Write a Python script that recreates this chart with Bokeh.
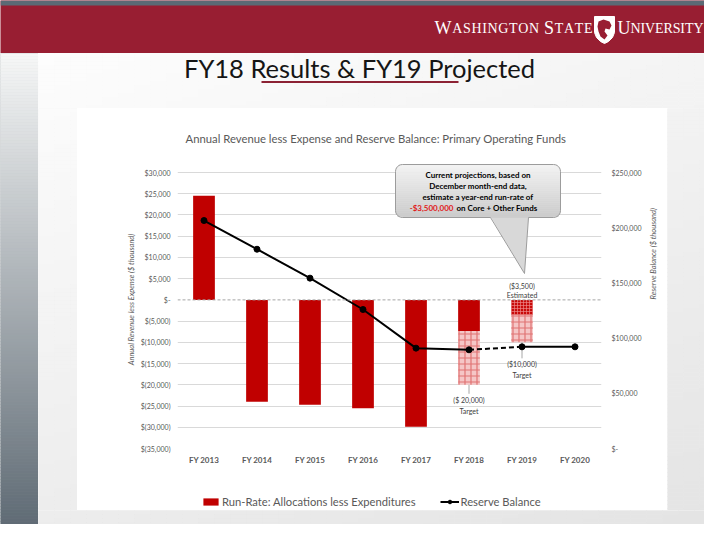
import math
from bokeh.plotting import figure
from bokeh.layouts import column, row
from bokeh.models import (Range1d, FactorRange, LinearAxis, FixedTicker, Span, Legend,
                          LegendItem, ColumnDataSource)
from bokeh.core.properties import value
from bokeh.embed import file_html
from bokeh.resources import INLINE

# ---------------- chart data ----------------
categories = ["FY 2013", "FY 2014", "FY 2015", "FY 2016", "FY 2017", "FY 2018", "FY 2019", "FY 2020"]
actual_categories = ["FY 2013", "FY 2014", "FY 2015", "FY 2016", "FY 2017", "FY 2018"]
run_rate_actual = [24500, -24000, -24700, -25500, -29900, -7300]
estimate_categories = ["FY 2019"]
run_rate_estimated = [-3500]
target_categories = ["FY 2018", "FY 2019"]
run_rate_target = [-20000, -10000]
target_labels = ["($ 20,000)", "($10,000)"]
estimate_labels = ["($3,500)"]
reserve_balance = [206500, 180500, 154300, 125900, 90900, 89400, 92100, 92100]

left_ticks = list(range(-35000, 30001, 5000))
right_ticks = list(range(0, 250001, 50000))

callout_lines = ["Current projections, based on", "December month-end data,",
                 "estimate a year-end run-rate of"]
callout_red = "-$3,500,000"
callout_tail = "on Core + Other Funds"
legend_labels = ["Run-Rate: Allocations less Expenditures", "Reserve Balance"]

FONT = "Lato"
TXT = "#595959"
RED = "#c00000"
MAROON = "#981e32"


def acct(v):
    if v == 0:
        return "$-"
    s = f"{abs(v):,}"
    return f"$({s})" if v < 0 else f"${s}"


def hexc(rgb):
    return "#%02x%02x%02x" % tuple(int(round(c)) for c in rgb)


def lerp(a, b, t):
    return tuple(a[i] + (b[i] - a[i]) * t for i in range(3))


# ---------------- geometry (picture pixels) ----------------
W_ALL, H_ALL = 704, 524
HEAD_B = 53
STRIP_R = 38
CH_X0, CH_X1, CH_Y0, CH_Y1 = 77, 667, 108, 510      # white chart box
LEG_Y0 = 488                                         # legend strip top
FR_L, FR_R, FR_T, FR_B = 177, 601, 150, 448          # plot frame
TICK_TOP_PY = 172                                    # picture y of the top tick
LEG_X = 201                                          # legend left edge

k_left = (FR_B - TICK_TOP_PY) / (left_ticks[-1] - left_ticks[0])
k_right = (FR_B - TICK_TOP_PY) / (right_ticks[-1] - right_ticks[0])
y_end_left = left_ticks[-1] + (TICK_TOP_PY - FR_T) / k_left
y_end_right = right_ticks[-1] + (TICK_TOP_PY - FR_T) / k_right
CAT_W = (FR_R - FR_L) / len(categories)


def px2x(px):
    return (px - FR_L) / CAT_W


def py2y(py):
    return left_ticks[0] + (FR_B - py) / k_left


def deco(x0, x1, y0, y1, fill):
    f = figure(width=x1 - x0, height=y1 - y0, x_range=Range1d(x0, x1), y_range=Range1d(y1, y0),
               x_axis_type=None, y_axis_type=None, output_backend="svg",
               toolbar_location=None, min_border=0)
    f.outline_line_color = None
    f.background_fill_color = fill
    f.border_fill_color = fill
    return f


def bg_rgb(x, y):
    ty = min(max((y - 53) / 487, 0), 1)
    tx = min(max((x - 38) / 682, 0), 1)
    v = 253 - 17 * ty - 9 * tx
    return (v, v, v)


def paint_bg(f, x0, x1, y0, y1, cw=16, chh=4):
    L, R, T, B, C = [], [], [], [], []
    y = y0
    while y < y1:
        yb = min(y + chh, y1)
        x = x0
        while x < x1:
            xr = min(x + cw, x1)
            L.append(x); R.append(xr); T.append(y); B.append(yb)
            C.append(hexc(bg_rgb((x + xr) / 2, (y + yb) / 2)))
            x = xr
        y = yb
    f.quad(left=L, right=R, top=T, bottom=B, fill_color=C, line_color=C, line_width=0.6)


# ---------------- header band ----------------
header = deco(0, W_ALL, 0, HEAD_B, MAROON)
header.quad(left=0, right=W_ALL, top=0, bottom=5, fill_color="#5b6a75", line_color=None)

TW = {"W": 944, "A": 722, "S": 556, "H": 722, "I": 333, "N": 722, "G": 722, "T": 611,
      "O": 722, "E": 611, "U": 722, "V": 722, "R": 667, "Y": 722, " ": 250}


def logo_word(f, word, x_start, x_end, baseline, big=18, small=14):
    sizes, prev_space = [], True
    for ch in word:
        sizes.append(big if (prev_space and ch != " ") else small)
        prev_space = ch == " "
    widths = [TW[ch] / 1000 * s for ch, s in zip(word, sizes)]
    extra = (x_end - x_start - sum(widths)) / (len(word) - 1)
    xs, x = [], x_start
    for w in widths:
        xs.append(x)
        x += w + extra
    keep = [i for i, ch in enumerate(word) if ch != " "]
    src = ColumnDataSource(dict(x=[xs[i] for i in keep],
                                y=[baseline - 0.33 * sizes[i] for i in keep],
                                t=[word[i] for i in keep],
                                s=[f"{sizes[i]}px" for i in keep]))
    f.text(x="x", y="y", text="t", text_font_size="s", source=src,
           text_font=value("Liberation Serif"), text_color="white",
           text_baseline="middle", text_align="left")


logo_word(header, "WASHINGTON STATE", 434, 592, 33)
logo_word(header, "UNIVERSITY", 617, 703, 33)
shield_x = [594, 614, 614, 612, 608, 604, 600, 596, 594]
shield_y = [16, 16, 32, 37, 41, 43, 41, 37, 32]
header.patch(shield_x, shield_y, fill_color="white", line_color="white")
head_x = [598, 603, 609, 611, 609, 605, 604, 607, 604, 600, 598, 597]
head_y = [21, 19, 21, 25, 29, 28, 31, 35, 39, 36, 31, 26]
header.patch(head_x, head_y, fill_color=MAROON, line_color=None)

# ---------------- left gradient strip ----------------
strip = deco(0, STRIP_R, HEAD_B, H_ALL, "#aab0b4")
sy = list(range(HEAD_B, H_ALL, 3))
scol = [hexc(lerp((246, 247, 247), (90, 102, 112), (v + 1.5 - 53) / 487)) for v in sy]
strip.quad(left=0, right=STRIP_R, top=sy, bottom=[min(v + 3, H_ALL) for v in sy],
           fill_color=scol, line_color=scol, line_width=0.6)

# ---------------- slide title ----------------
title_fig = deco(STRIP_R, W_ALL, HEAD_B, CH_Y0, "#f8f8f8")
paint_bg(title_fig, STRIP_R, W_ALL, HEAD_B, CH_Y0)
title_fig.text(x=[359], y=[67], text=["FY18 Results & FY19 Projected"], text_align="center",
               text_baseline="middle", text_font=value(FONT), text_font_size="25.5px",
               text_color="#151515")
title_fig.line(x=[261, 458], y=[81.5, 81.5], line_color="#8c2234", line_width=2.2)

# ---------------- gaps around chart box ----------------
gap_l = deco(STRIP_R, CH_X0, CH_Y0, CH_Y1, "#f0f0f0")
paint_bg(gap_l, STRIP_R, CH_X0, CH_Y0, CH_Y1)
gap_r = deco(CH_X1, W_ALL, CH_Y0, CH_Y1, "#eeeeee")
paint_bg(gap_r, CH_X1, W_ALL, CH_Y0, CH_Y1)
gap_b = deco(STRIP_R, W_ALL, CH_Y1, H_ALL, "#e8e8e8")
paint_bg(gap_b, STRIP_R, W_ALL, CH_Y1, H_ALL)

# ---------------- main chart ----------------
p = figure(width=CH_X1 - CH_X0, height=LEG_Y0 - CH_Y0,
           x_range=FactorRange(factors=categories),
           y_range=Range1d(left_ticks[0], y_end_left),
           min_border_left=FR_L - CH_X0, min_border_right=CH_X1 - FR_R,
           min_border_top=FR_T - CH_Y0, min_border_bottom=LEG_Y0 - FR_B,
           output_backend="svg", toolbar_location=None)
p.outline_line_color = None
p.background_fill_color = "white"
p.border_fill_color = "white"
p.extra_y_ranges = {"right": Range1d(right_ticks[0], y_end_right)}

p.title.text = "Annual Revenue less Expense and Reserve Balance: Primary Operating Funds"
p.title.text_font = FONT
p.title.text_font_size = "11.3px"
p.title.text_font_style = "normal"
p.title.text_color = TXT
p.title.align = "left"
p.title.offset = 8
p.title.standoff = 11

p.xgrid.visible = False
p.ygrid.ticker = FixedTicker(ticks=[t for t in left_ticks if t != 0])
p.ygrid.grid_line_color = "#d9d9d9"


def style_axis(ax, size="7px"):
    ax.axis_line_color = None
    ax.major_tick_line_color = None
    ax.minor_tick_line_color = None
    ax.major_tick_out = 0
    ax.major_tick_in = 0
    ax.major_label_text_font = FONT
    ax.major_label_text_font_size = size
    ax.major_label_text_color = TXT
    ax.axis_label_text_font = FONT
    ax.axis_label_text_font_size = "7.5px"
    ax.axis_label_text_font_style = "italic"
    ax.axis_label_text_color = TXT


ly = p.yaxis[0]
ly.ticker = FixedTicker(ticks=left_ticks)
ly.major_label_overrides = {t: acct(t) for t in left_ticks}
style_axis(ly)
ly.major_label_standoff = 7
ly.axis_label = "Annual Revenue less Expense ($ thousand)"
ly.axis_label_standoff = 2

ry = LinearAxis(y_range_name="right", ticker=FixedTicker(ticks=right_ticks))
ry.major_label_overrides = {t: acct(t) for t in right_ticks}
style_axis(ry)
ry.major_label_standoff = 10
ry.axis_label = "Reserve Balance ($ thousand)"
ry.axis_label_standoff = 9
ry.axis_label_orientation = math.pi / 2
p.add_layout(ry, "right")

bx = p.xaxis[0]
style_axis(bx, "8px")
bx.major_label_text_font_style = "bold"
bx.major_label_standoff = 6

p.add_layout(Span(location=0, dimension="width", line_color="#a6a6a6",
                  line_dash="3 2", line_width=1))

BAR_W = 0.41
BAR_STYLE = dict(fill_color=RED, line_color=None)
LINE_STYLE = dict(line_color="black", line_width=2)
DOT_STYLE = dict(size=6, marker="circle", fill_color="black", line_color="black")

bars = p.vbar(x=actual_categories, top=run_rate_actual, bottom=0, width=BAR_W, **BAR_STYLE)
target_from = [run_rate_actual[-1], run_rate_estimated[0]]
p.vbar(x=target_categories, top=target_from, bottom=run_rate_target, width=BAR_W,
       fill_color="#f5c6c6", line_color=None, hatch_pattern="cross",
       hatch_color="#d23c3c", hatch_scale=6, hatch_weight=1.2, hatch_alpha=0.6)
p.vbar(x=estimate_categories, top=0, bottom=run_rate_estimated, width=BAR_W,
       fill_color="#c80a0a", line_color=None, hatch_pattern="cross",
       hatch_color="#f09090", hatch_scale=3, hatch_weight=0.8, hatch_alpha=0.8)

# leader lines + labels for targets / estimate
lead_px = [9, 16]
p.segment(x0=target_categories, y0=run_rate_target, x1=target_categories,
          y1=[t - L / k_left for t, L in zip(run_rate_target, lead_px)],
          line_color="#a6a6a6", line_width=1)
p.text(x=target_categories, y=[t - (L + 6) / k_left for t, L in zip(run_rate_target, lead_px)],
       text=target_labels, text_align="center", text_baseline="middle",
       text_font=value(FONT), text_font_size="7px", text_color="#404040")
p.text(x=target_categories, y=[t - (L + 17) / k_left for t, L in zip(run_rate_target, lead_px)],
       text=["Target"] * len(target_categories), text_align="center", text_baseline="middle",
       text_font=value(FONT), text_font_size="7px", text_color="#404040")
p.text(x=estimate_categories, y=[14 / k_left], text=estimate_labels, text_align="center",
       text_baseline="middle", text_font=value(FONT), text_font_size="7px", text_color="#404040")
p.text(x=estimate_categories, y=[5 / k_left], text=["Estimated"], text_align="center",
       text_baseline="middle", text_font=value(FONT), text_font_size="7px", text_color="#404040")

# reserve balance line (solid actuals, dashed FY18 -> FY19 projection)
p.line(categories[:6], reserve_balance[:6], y_range_name="right", **LINE_STYLE)
p.line(categories[5:7], reserve_balance[5:7], y_range_name="right", line_dash="5 3",
       **LINE_STYLE)
p.line(categories[6:], reserve_balance[6:], y_range_name="right", **LINE_STYLE)
p.scatter(categories, reserve_balance, y_range_name="right", **DOT_STYLE)

# ---------------- callout (picture-pixel layout converted to chart coords) ----------------
CL, CR, CT, CB, CRAD = 395, 560, 164, 217, 7
PTR = (490, 528, (524, 273))


def outline_pts(n=6):
    pts = []

    def arc(cx, cy, a0, a1):
        for i in range(n + 1):
            a = a0 + (a1 - a0) * i / n
            pts.append((cx + CRAD * math.cos(a), cy + CRAD * math.sin(a)))
    arc(CL + CRAD, CT + CRAD, math.pi, 1.5 * math.pi)
    arc(CR - CRAD, CT + CRAD, 1.5 * math.pi, 2 * math.pi)
    arc(CR - CRAD, CB - CRAD, 0, 0.5 * math.pi)
    pts += [(PTR[1], CB), PTR[2], (PTR[0], CB)]
    arc(CL + CRAD, CB - CRAD, 0.5 * math.pi, math.pi)
    pts.append(pts[0])
    return pts


p.patch([px2x(v) for v in (PTR[0], PTR[1], PTR[2][0])],
        [py2y(v) for v in (CB - 1, CB - 1, PTR[2][1])],
        fill_color="#d8d8d8", line_color=None)
sx_list, sy_list, sc_list = [], [], []
for yy in range(CT, CB, 2):
    ym = yy + 1
    dy = 0
    if ym < CT + CRAD:
        dy = CT + CRAD - ym
    elif ym > CB - CRAD:
        dy = ym - (CB - CRAD)
    ins = CRAD - math.sqrt(max(CRAD * CRAD - dy * dy, 0))
    xa, xb = px2x(CL + ins), px2x(CR - ins)
    ya, yb = py2y(yy), py2y(min(yy + 2, CB))
    sx_list.append([xa, xb, xb, xa])
    sy_list.append([ya, ya, yb, yb])
    sc_list.append(hexc(lerp((243, 243, 243), (202, 202, 202), (ym - CT) / (CB - CT))))
p.patches(sx_list, sy_list, fill_color=sc_list, line_color=sc_list, line_width=0.5)
op = outline_pts()
p.line([px2x(a) for a, b in op], [py2y(b) for a, b in op], line_color="#9c9c9c", line_width=1)

CX = (CL + CR) / 2
p.text(x=[px2x(CX)] * 3, y=[py2y(v) for v in (174, 185, 196)], text=callout_lines,
       text_align="center", text_baseline="middle", text_font=value(FONT),
       text_font_style="bold", text_font_size="8px", text_color="black")
p.text(x=[px2x(453)], y=[py2y(207)], text=[callout_red], text_align="right",
       text_baseline="middle", text_font=value(FONT), text_font_style="bold",
       text_font_size="8px", text_color="#e01b1b")
p.text(x=[px2x(456)], y=[py2y(207)], text=[callout_tail], text_align="left",
       text_baseline="middle", text_font=value(FONT), text_font_style="bold",
       text_font_size="8px", text_color="black")

# ---------------- legend strip (bottom of the white chart box) ----------------
# same side borders as the chart so its frame lines up with the chart frame
leg = figure(width=CH_X1 - CH_X0, height=CH_Y1 - LEG_Y0, x_range=Range1d(0, 1),
             y_range=Range1d(0, 1), x_axis_type=None, y_axis_type=None,
             output_backend="svg", toolbar_location=None, min_border=0,
             min_border_left=FR_L - CH_X0, min_border_right=CH_X1 - FR_R)
leg.outline_line_color = None
leg.background_fill_color = "white"
leg.border_fill_color = "white"
# off-range sample points: these renderers only supply the legend swatches
lg_bar = leg.vbar(x=[-5], top=[-5], bottom=[-6], width=0.5, **BAR_STYLE)
lg_line = leg.line(x=[-5, -4], y=[-5, -5], **LINE_STYLE)
lg_dot = leg.scatter(x=[-5], y=[-5], **DOT_STYLE)
legend = Legend(items=[LegendItem(label=legend_labels[0], renderers=[lg_bar]),
                       LegendItem(label=legend_labels[1], renderers=[lg_line, lg_dot])],
                orientation="horizontal", location=(LEG_X - FR_L, 2), margin=0, padding=0,
                spacing=24, glyph_width=19, glyph_height=9, label_height=14,
                label_standoff=2, label_text_font=FONT, label_text_font_size="11.2px",
                label_text_color=TXT, background_fill_alpha=0, border_line_alpha=0)
leg.add_layout(legend)

# ---------------- assemble ----------------
chart_box = column(p, leg, spacing=0)
mid = row(gap_l, chart_box, gap_r, spacing=0)
content = column(title_fig, mid, gap_b, spacing=0)
body = row(strip, content, spacing=0)
page = column(header, body, spacing=0)

open("out.html", "w").write(file_html(page, INLINE))
